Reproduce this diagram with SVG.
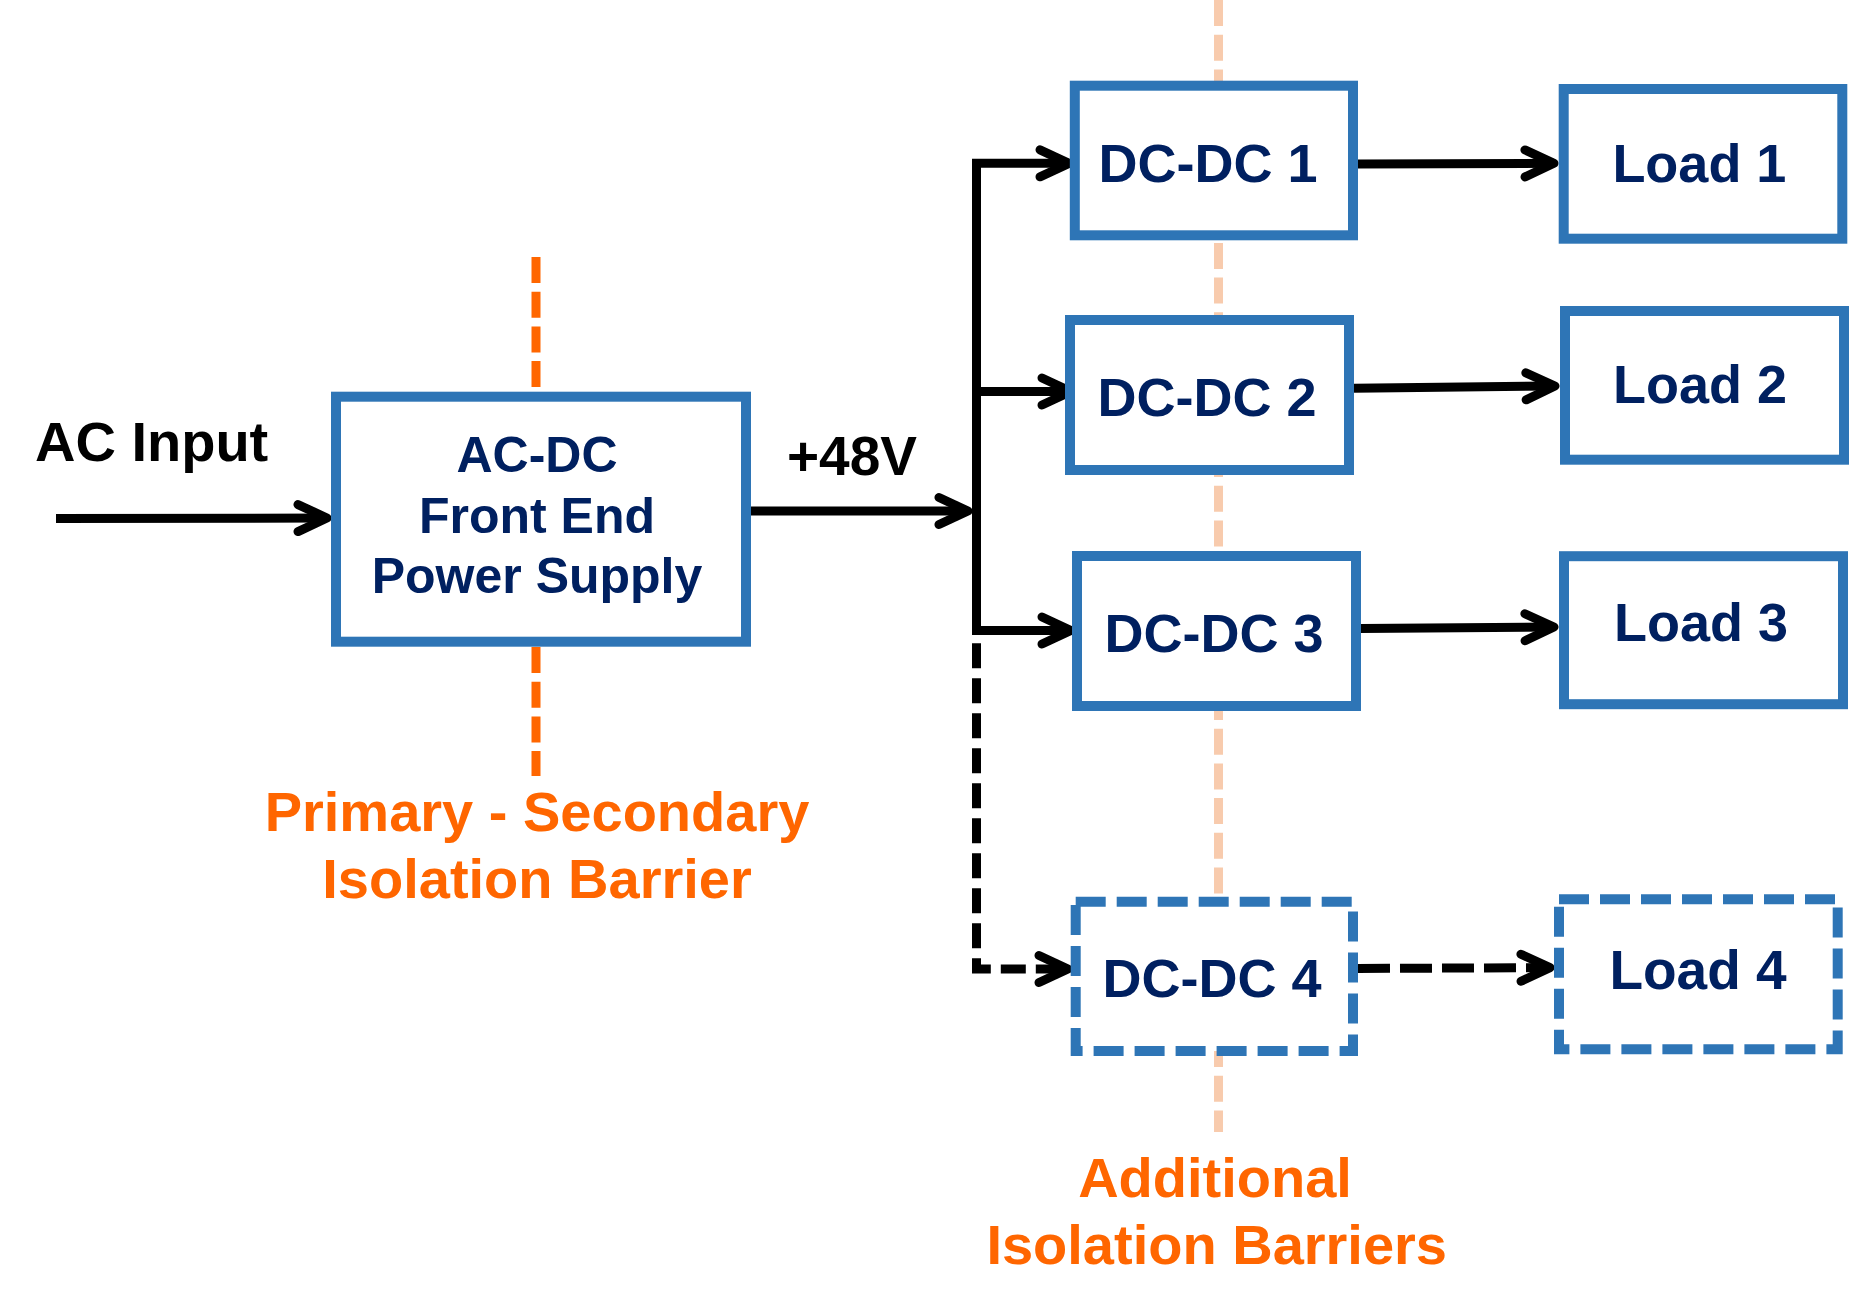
<svg xmlns="http://www.w3.org/2000/svg" width="1849" height="1312" viewBox="0 0 1849 1312">
  <style>
    .box { fill: #ffffff; stroke: #2E75B6; stroke-width: 10; }
    .dbox { fill: #ffffff; stroke: #2E75B6; stroke-width: 10; stroke-dasharray: 30 11; }
    .lbl { font-family: "Liberation Sans", Arial, sans-serif; font-weight: bold; fill: #002060; text-anchor: middle; }
    .blk { font-family: "Liberation Sans", Arial, sans-serif; font-weight: bold; fill: #000000; }
    .org { font-family: "Liberation Sans", Arial, sans-serif; font-weight: bold; fill: #FF6600; text-anchor: middle; font-size: 56px; }
    .con { fill: none; stroke: #000000; stroke-width: 9; stroke-linejoin: miter; }
    .dash { stroke-dasharray: 25 10; }
    .bar1 { stroke: #FF6600; stroke-width: 9; stroke-dasharray: 26 8.7; }
    .bar2 { stroke: #F8CBAD; stroke-width: 9; stroke-dasharray: 26 8.7; }
  </style>
  <defs>
    <marker id="arr" markerUnits="userSpaceOnUse" orient="auto-start-reverse" refX="0" refY="0" markerWidth="60" markerHeight="60" viewBox="-45 -30 60 60" overflow="visible">
      <path d="M-29,-13.5 L0,0 L-29,13.5" fill="none" stroke="#000000" stroke-width="9" stroke-linecap="round" stroke-linejoin="round"/>
    </marker>
  </defs>

  <g id="barriers">
    <line class="bar2" x1="1218.5" y1="0" x2="1218.5" y2="1132"/>
    <line class="bar1" x1="536" y1="257" x2="536" y2="392"/>
    <line class="bar1" x1="536" y1="647" x2="536" y2="776"/>
  </g>

  <g id="connectors">
    <path class="con" d="M56,518.5 L327,518" marker-end="url(#arr)"/>
    <path class="con" d="M751,511 L968,511" marker-end="url(#arr)"/>
    <path class="con" d="M1069,163.3 H976.5 V630.5 H1071" marker-start="url(#arr)" marker-end="url(#arr)"/>
    <path class="con" d="M976.5,391.5 H1071" marker-end="url(#arr)"/>
    <path class="con dash" d="M976.5,643.3 V969 H1068" marker-end="url(#arr)"/>
    <path class="con" d="M1358,164 L1554,163.3" marker-end="url(#arr)"/>
    <path class="con" d="M1354,388.3 L1555,386" marker-end="url(#arr)"/>
    <path class="con" d="M1361,628.5 L1554,627" marker-end="url(#arr)"/>
    <path class="con dash" d="M1358,968.5 L1550,967.6" style="stroke-dasharray: 32 10" marker-end="url(#arr)"/>
  </g>

  <g id="ac-input-label">
    <text class="blk" x="35" y="460.7" font-size="56">AC Input</text>
  </g>
  <g id="v48-label">
    <text class="blk" x="787" y="475" font-size="55">+48V</text>
  </g>

  <g id="acdc">
    <rect class="box" x="336" y="396.7" width="410" height="245"/>
    <text class="lbl" x="537" y="472" font-size="50">AC-DC</text>
    <text class="lbl" x="537" y="533" font-size="50">Front End</text>
    <text class="lbl" x="537" y="593" font-size="50">Power Supply</text>
  </g>

  <g id="dcdc1">
    <rect class="box" x="1074.8" y="85.7" width="278.2" height="149.6"/>
    <text class="lbl" x="1208" y="181.7" font-size="54">DC-DC 1</text>
  </g>
  <g id="dcdc2">
    <rect class="box" x="1070" y="320" width="279" height="150"/>
    <text class="lbl" x="1207" y="416" font-size="54">DC-DC 2</text>
  </g>
  <g id="dcdc3">
    <rect class="box" x="1077" y="556" width="279" height="150"/>
    <text class="lbl" x="1214" y="652.3" font-size="54">DC-DC 3</text>
  </g>
  <g id="dcdc4">
    <rect class="dbox" x="1075.7" y="901.7" width="277.3" height="149.3"/>
    <text class="lbl" x="1212" y="997.3" font-size="54">DC-DC 4</text>
  </g>

  <g id="load1">
    <rect class="box" x="1563.7" y="89" width="278.6" height="149.7"/>
    <text class="lbl" x="1699.4" y="181.7" font-size="54">Load 1</text>
  </g>
  <g id="load2">
    <rect class="box" x="1565" y="311" width="279" height="148.7"/>
    <text class="lbl" x="1700" y="402.9" font-size="54">Load 2</text>
  </g>
  <g id="load3">
    <rect class="box" x="1564" y="556.2" width="279" height="148"/>
    <text class="lbl" x="1701" y="641" font-size="54">Load 3</text>
  </g>
  <g id="load4">
    <rect class="dbox" x="1559" y="899.3" width="278.7" height="150"/>
    <text class="lbl" x="1698" y="989" font-size="55">Load 4</text>
  </g>

  <g id="primary-secondary-label">
    <text class="org" x="537" y="831">Primary - Secondary</text>
    <text class="org" x="537" y="898.3">Isolation Barrier</text>
  </g>
  <g id="additional-label">
    <text class="org" x="1215" y="1196.7">Additional</text>
    <text class="org" x="1216.7" y="1264">Isolation Barriers</text>
  </g>
</svg>
